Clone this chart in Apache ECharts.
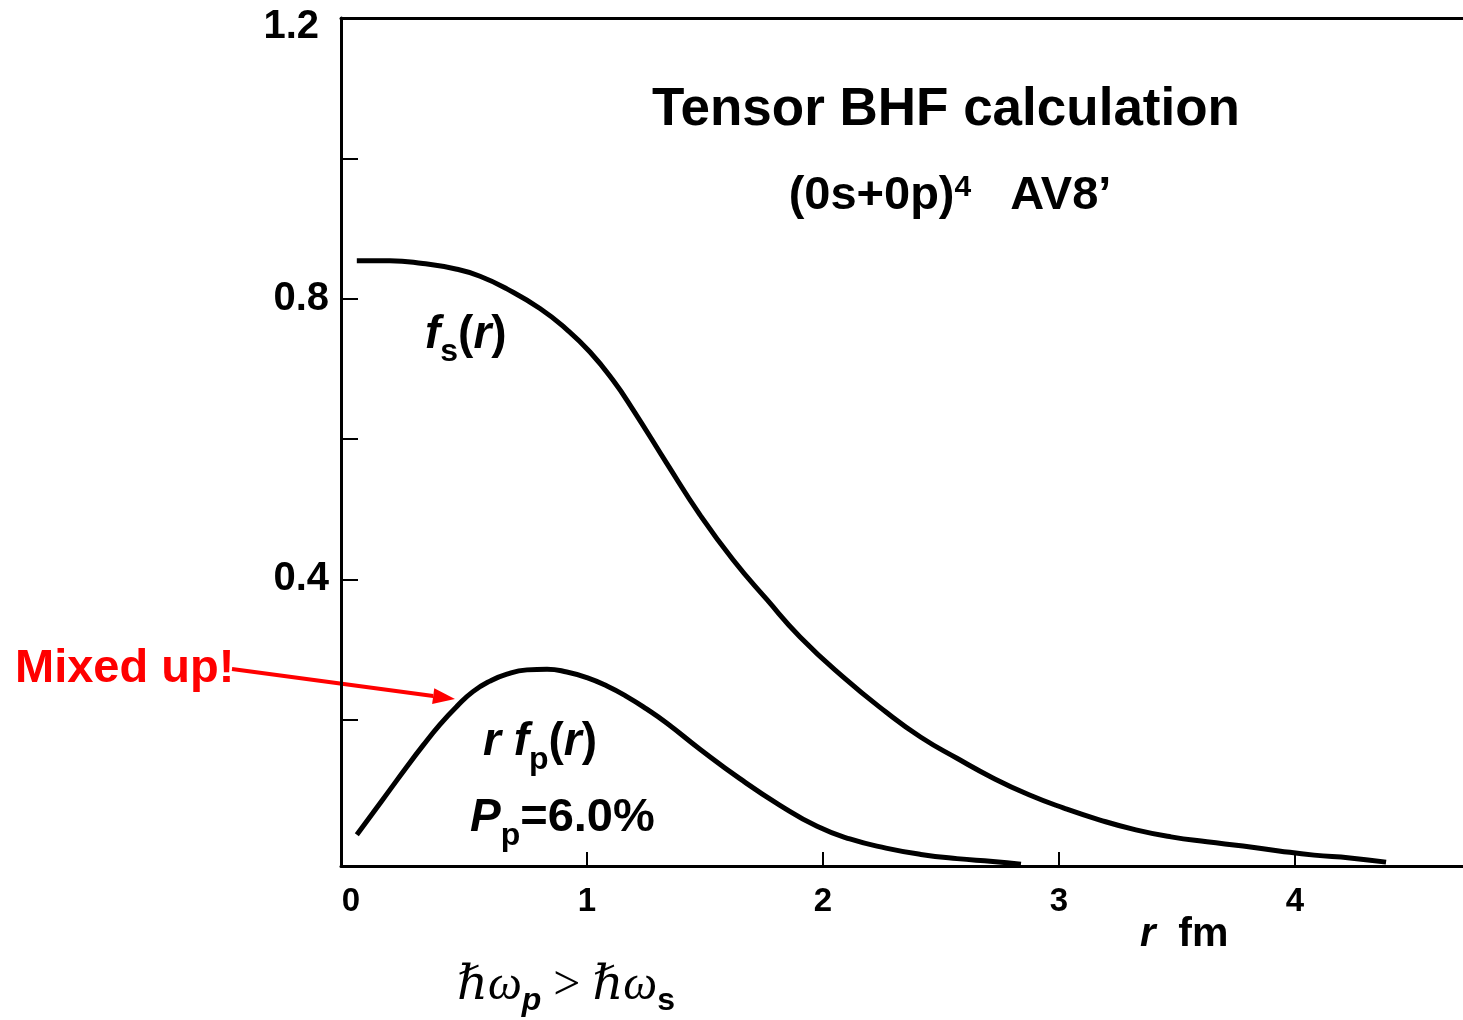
<!DOCTYPE html>
<html>
<head>
<meta charset="utf-8">
<script src="https://cdn.jsdelivr.net/npm/echarts@6/dist/echarts.min.js"></script>
<style>
html,body{margin:0;padding:0;background:#fff;}
#chart{width:1463px;height:1020px;}
</style>
</head>
<body>
<div id="chart"></div>
<script>
// ---- data ----
const rS = [0.025,0.165,0.305,0.449,0.547,0.661,0.801,0.915,1.013,1.110,1.195,1.339,1.479,1.619,1.763,1.903,2.085,2.267,2.415,2.568,2.720,2.873,3.021,3.174,3.326,3.475,3.627,3.780,3.932,4.081,4.233,4.386];
const fS = [0.854,0.854,0.850,0.842,0.832,0.814,0.786,0.756,0.724,0.684,0.642,0.565,0.492,0.428,0.371,0.318,0.261,0.211,0.175,0.145,0.117,0.093,0.074,0.057,0.043,0.033,0.026,0.020,0.013,0.007,0.003,-0.003];
const rP = [0.025,0.093,0.165,0.237,0.305,0.377,0.449,0.517,0.589,0.661,0.746,0.831,0.915,1.000,1.085,1.169,1.254,1.339,1.479,1.648,1.818,1.975,2.114,2.267,2.415,2.568,2.720,2.839];
const fP = [0.036,0.067,0.100,0.133,0.163,0.193,0.219,0.240,0.255,0.265,0.271,0.272,0.268,0.260,0.248,0.233,0.215,0.195,0.158,0.116,0.078,0.048,0.030,0.017,0.008,0.002,-0.002,-0.006];
const xTickValues = [1,2,3,4];
const xLabelValues = [0,1,2,3,4];
const yTickValues = [0.2,0.4,0.6,0.8,1.0];
const yLabelValues = [0.4,0.8,1.2];

const SANS = "'Liberation Sans', Arial, Helvetica, sans-serif";
const SERIF = "'Liberation Serif', 'DejaVu Serif', 'Times New Roman', serif";

const chart = echarts.init(document.getElementById('chart'));

// text helper: sequence of pieces on a common baseline
const mctx = document.createElement('canvas').getContext('2d');
function seq(x0, baseline, pieces, color, align) {
  const els = [];
  let widths = pieces.map(p => {
    mctx.font = `${p.style||'normal'} ${p.weight||'bold'} ${p.size}px ${p.family||SANS}`;
    return mctx.measureText(p.t).width;
  });
  const total = widths.reduce((a,b)=>a+b,0);
  let x = align === 'center' ? x0 - total/2 : x0;
  pieces.forEach((p,i) => {
    els.push({
      type:'text', x: x, y: baseline + (p.dy||0) - 0.31*p.size, silent:true,
      style:{ text:p.t, fill: color||'#000', fontSize:p.size, fontWeight:p.weight||'bold',
        fontStyle:p.style||'normal', fontFamily:p.family||SANS, align:'left', verticalAlign:'middle' }
    });
    x += widths[i];
  });
  return els;
}

const graphics = [];
graphics.push(...seq(946, 127, [{t:'Tensor BHF calculation', size:53}], '#000', 'center'));
graphics.push(...seq(950, 211, [
  {t:'(0s+0p)', size:47}, {t:'4', size:30, dy:-14}, {t:'   AV8\u2019', size:47}
], '#000', 'center'));
graphics.push(...seq(425, 350, [
  {t:'f', size:46, style:'italic'}, {t:'s', size:32, dy:12}, {t:'(', size:46},
  {t:'r', size:46, style:'italic'}, {t:')', size:46}
]));
graphics.push(...seq(483, 757, [
  {t:'r ', size:46, style:'italic'}, {t:'f', size:46, style:'italic'}, {t:'p', size:32, dy:13},
  {t:'(', size:46}, {t:'r', size:46, style:'italic'}, {t:')', size:46}
]));
graphics.push(...seq(470, 833, [
  {t:'P', size:46, style:'italic'}, {t:'p', size:32, dy:13}, {t:'=6.0%', size:47}
]));
graphics.push(...seq(15, 684, [{t:'Mixed up!', size:47}], '#ff0000'));
graphics.push(...seq(1140, 947, [
  {t:'r', size:40, style:'italic'}, {t:'  fm', size:41}
]));
graphics.push(...seq(457, 1001, [
  {t:'\u210F\u03C9', size:48, style:'italic', weight:'normal', family:SERIF},
  {t:'p', size:32, style:'italic', dy:10},
  {t:' > ', size:48, weight:'normal', family:SERIF},
  {t:'\u210F\u03C9', size:48, style:'italic', weight:'normal', family:SERIF},
  {t:'s', size:32, dy:10}
]));
// red arrow annotation
(function(){
  const sx=232, sy=669, tx=455, ty=699, hl=22, hw=8;
  const L=Math.hypot(tx-sx,ty-sy), dx=(tx-sx)/L, dy=(ty-sy)/L;
  const bx=tx-hl*dx, by=ty-hl*dy, nx=-dy*hw, ny=dx*hw;
  graphics.push({type:'line', silent:true, shape:{x1:sx,y1:sy,x2:bx,y2:by}, style:{stroke:'#ff0000', lineWidth:4}});
  graphics.push({type:'polygon', silent:true, shape:{points:[[tx,ty],[bx+nx,by+ny],[bx-nx,by-ny]]}, style:{fill:'#ff0000'}});
})();

const lineStyleCurve = {color:'#000', width:5};
const option = {
  backgroundColor:'#fff',
  animation:false,
  grid:{left:341, top:18, right:0, bottom:154, containLabel:false, outerBoundsMode:'none'},
  xAxis:[{
    type:'value', min:-0.042, max:4.712, position:'bottom',
    axisLine:{show:true, onZero:false, lineStyle:{color:'#000', width:3}},
    axisTick:{show:true, inside:true, length:14, customValues:xTickValues, lineStyle:{color:'#000', width:2}},
    axisLabel:{show:true, customValues:xLabelValues, margin:19, color:'#000', fontSize:33, fontWeight:'bold', fontFamily:SANS,
      formatter:v=>String(Math.round(v))},
    splitLine:{show:false}
  },{
    type:'value', min:-0.042, max:4.712, position:'top',
    axisLine:{show:true, onZero:false, lineStyle:{color:'#000', width:3}},
    axisTick:{show:false}, axisLabel:{show:false}, splitLine:{show:false}
  }],
  yAxis:{
    type:'value', min:-0.0085, max:1.2,
    axisLine:{show:true, onZero:false, lineStyle:{color:'#000', width:3}},
    axisTick:{show:true, inside:true, length:17, customValues:yTickValues, lineStyle:{color:'#000', width:2}},
    axisLabel:{show:true, customValues:yLabelValues, margin:12, color:'#000', fontSize:40, fontWeight:'bold', fontFamily:SANS,
      formatter:v=> Math.abs(v-1.2)<1e-6 ? '{t|1.2}' : v.toFixed(1),
      rich:{t:{fontSize:40, fontWeight:'bold', fontFamily:SANS, color:'#000', padding:[18,10,0,0]}}},
    splitLine:{show:false}
  },
  series:[{
    type:'line', name:'fs', xAxisIndex:0, data:rS.map((r,i)=>[r,fS[i]]),
    showSymbol:false, smooth:0.5, lineStyle:lineStyleCurve, silent:true
  },{
    type:'line', name:'rfp', xAxisIndex:0, data:rP.map((r,i)=>[r,fP[i]]),
    showSymbol:false, smooth:0.5, lineStyle:lineStyleCurve, silent:true
  }],
  graphic:graphics
};
chart.setOption(option);
</script>
</body>
</html>
